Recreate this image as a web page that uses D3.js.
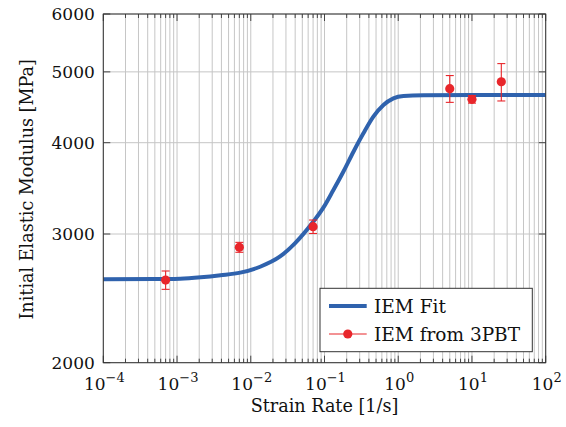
<!DOCTYPE html>
<html>
<head>
<meta charset="utf-8">
<script src="https://cdn.jsdelivr.net/npm/d3@7"></script>
<style>
    body { margin: 0; background: #fff; }
</style>
</head>
<body>
<div id="chart"></div>
<script>
// fit curve
var fitRate = [1e-4, 5e-4, 1.1e-3, 2.1e-3, 3.9e-3, 7.2e-3, 0.0134, 0.025, 0.04, 0.069, 0.097, 0.132, 0.18, 0.247, 0.337, 0.46, 0.63, 0.86, 1.18, 2.2, 10, 100];
var fitModulus = [2602, 2603, 2606, 2617, 2634, 2656, 2706, 2795, 2915, 3110, 3262, 3446, 3650, 3888, 4120, 4342, 4504, 4600, 4634, 4645, 4648, 4648];

// measured points (3PBT) with error bars
var testRate = [7e-4, 7e-3, 0.07, 5, 10, 25];
var testModulus = [2595, 2877, 3070, 4742, 4586, 4847];
var testError = [75, 45, 65, 200, 55, 285];

var xMajor = [1e-4, 1e-3, 1e-2, 1e-1, 1e0, 1e1, 1e2];
var xExponents = ['\u22124', '\u22123', '\u22122', '\u22121', '0', '1', '2'];
var yTicks = [2000, 3000, 4000, 5000, 6000];
var seriesNames = ['IEM Fit', 'IEM from 3PBT'];

var width = 566, height = 427;
var margin = {top: 14, right: 20.3, bottom: 64.3, left: 103.3};
var w = width - margin.left - margin.right;
var h = height - margin.top - margin.bottom;

var blue = '#2f62ad';
var red = '#e8262b';
var serif = '"DejaVu Serif", serif';

var svg = d3.select('#chart').append('svg')
    .attr('width', width)
    .attr('height', height)
    .style('font-family', serif);

var g = svg.append('g')
    .attr('transform', 'translate(' + margin.left + ',' + margin.top + ')');

var x = d3.scaleLog().domain([1e-4, 1e2]).range([0, w]);
var y = d3.scaleLog().domain([2000, 6000]).range([h, 0]);

// grid (minor + major on x, major on y)
var xMinor = x.ticks();
g.append('g').selectAll('line').data(xMinor).enter().append('line')
    .attr('x1', function(d) { return x(d); })
    .attr('x2', function(d) { return x(d); })
    .attr('y1', 0).attr('y2', h)
    .style('stroke', '#c6c6c6').style('stroke-width', 1);

g.append('g').selectAll('line').data(yTicks).enter().append('line')
    .attr('x1', 0).attr('x2', w)
    .attr('y1', function(d) { return y(d); })
    .attr('y2', function(d) { return y(d); })
    .style('stroke', '#c6c6c6').style('stroke-width', 1);

// ticks, inside, mirrored on top / right
var ticks = g.append('g').style('stroke', '#444').style('stroke-width', 1);
xMinor.forEach(function(d) {
    var major = xMajor.indexOf(d) >= 0;
    var len = major ? 7 : 4;
    ticks.append('line').attr('x1', x(d)).attr('x2', x(d)).attr('y1', h).attr('y2', h - len);
    ticks.append('line').attr('x1', x(d)).attr('x2', x(d)).attr('y1', 0).attr('y2', len);
});
yTicks.forEach(function(d) {
    ticks.append('line').attr('x1', 0).attr('x2', 7).attr('y1', y(d)).attr('y2', y(d));
    ticks.append('line').attr('x1', w).attr('x2', w - 7).attr('y1', y(d)).attr('y2', y(d));
});

// fit curve
var fitData = fitRate.map(function(r, i) { return [r, fitModulus[i]]; });
var line = d3.line()
    .x(function(d) { return x(d[0]); })
    .y(function(d) { return y(d[1]); })
    .curve(d3.curveMonotoneX);

g.append('path')
    .datum(fitData)
    .attr('d', line)
    .style('fill', 'none')
    .style('stroke', blue)
    .style('stroke-width', 4);

// error bars
var testData = testRate.map(function(r, i) {
    return {rate: r, value: testModulus[i], err: testError[i]};
});
var bars = g.append('g').style('stroke', red).style('stroke-width', 1.1);
testData.forEach(function(d) {
    var cx = x(d.rate);
    var top = y(d.value + d.err), bot = y(d.value - d.err);
    bars.append('line').attr('x1', cx).attr('x2', cx).attr('y1', top).attr('y2', bot);
    bars.append('line').attr('x1', cx - 4).attr('x2', cx + 4).attr('y1', top).attr('y2', top);
    bars.append('line').attr('x1', cx - 4).attr('x2', cx + 4).attr('y1', bot).attr('y2', bot);
});

g.append('g').selectAll('circle').data(testData).enter().append('circle')
    .attr('cx', function(d) { return x(d.rate); })
    .attr('cy', function(d) { return y(d.value); })
    .attr('r', 4.6)
    .style('fill', red);

// frame
g.append('rect')
    .attr('width', w).attr('height', h)
    .style('fill', 'none')
    .style('stroke', '#333')
    .style('stroke-width', 1);

// x tick labels 10^n
var xLabels = g.append('g').selectAll('text').data(xMajor).enter().append('text')
    .attr('x', function(d) { return x(d) + 1; })
    .attr('y', h + 27.3)
    .style('text-anchor', 'middle')
    .style('font-size', '17px')
    .style('fill', '#111');
xLabels.append('tspan').text('10');
xLabels.append('tspan')
    .attr('dy', -8)
    .style('font-size', '13px')
    .text(function(d, i) { return xExponents[i]; });

// y tick labels
g.append('g').selectAll('text').data(yTicks).enter().append('text')
    .attr('x', -8.5)
    .attr('y', function(d) { return y(d); })
    .attr('dy', '0.36em')
    .style('text-anchor', 'end')
    .style('font-size', '17px')
    .style('fill', '#111')
    .text(function(d) { return d; });

// axis titles
g.append('text')
    .attr('x', w / 2)
    .attr('y', h + 49.5)
    .style('text-anchor', 'middle')
    .style('font-size', '17.6px')
    .style('fill', '#111')
    .text('Strain Rate [1/s]');

g.append('text')
    .attr('transform', 'translate(-70.5,' + (h / 2 + 1) + ') rotate(-90)')
    .style('text-anchor', 'middle')
    .style('font-size', '17.6px')
    .style('fill', '#111')
    .text('Initial Elastic Modulus [MPa]');

// legend
var legend = g.append('g').attr('transform', 'translate(216.7,274.3)');
legend.append('rect')
    .attr('width', 212.3).attr('height', 63.4)
    .style('fill', '#fff')
    .style('stroke', '#333')
    .style('stroke-width', 1);

legend.append('line')
    .attr('x1', 9).attr('x2', 46.7).attr('y1', 17.7).attr('y2', 17.7)
    .style('stroke', blue).style('stroke-width', 4);
legend.append('line')
    .attr('x1', 9).attr('x2', 46.7).attr('y1', 45.7).attr('y2', 45.7)
    .style('stroke', red).style('stroke-width', 1.1);
legend.append('circle')
    .attr('cx', 27.8).attr('cy', 45.7).attr('r', 4.6)
    .style('fill', red);

legend.selectAll('text.lbl').data(seriesNames).enter().append('text')
    .attr('class', 'lbl')
    .attr('x', 54)
    .attr('y', function(d, i) { return 17.7 + i * 28; })
    .attr('dy', '0.36em')
    .style('font-size', '18.5px')
    .style('fill', '#111')
    .text(function(d) { return d; });
</script>
</body>
</html>
